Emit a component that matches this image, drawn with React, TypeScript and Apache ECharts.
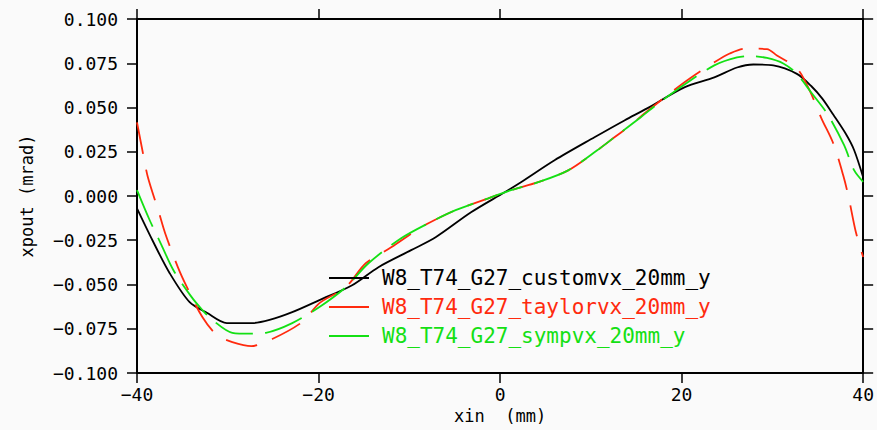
import React, { useEffect, useRef } from "react";
import * as echarts from "echarts";

const seriesNames = [
  "W8_T74_G27_customvx_20mm_y",
  "W8_T74_G27_taylorvx_20mm_y",
  "W8_T74_G27_sympvx_20mm_y",
];
const seriesColors = ["#000000", "#ff2a0e", "#14e014"];

const customX = [-40, -38.3, -36.4, -34.2, -32.3, -30.1, -27.3, -25.4, -22.9, -19.9, -16.3, -13.4, -9.8, -7.1, -3.2, 0.5, 2.3, 6.0, 10.4, 13.7, 16.2, 20.3, 23.6, 26.1, 27.9, 30.1, 32.7, 34.3, 35.5, 36.7, 38.1, 39.0, 40];
const customY = [-0.007, -0.025, -0.0436, -0.06, -0.066, -0.0718, -0.0718, -0.07, -0.0656, -0.0588, -0.0504, -0.0402, -0.0306, -0.0233, -0.0092, 0.0021, 0.0078, 0.0202, 0.0332, 0.0427, 0.0495, 0.0614, 0.067, 0.0726, 0.0743, 0.0738, 0.069, 0.062, 0.055, 0.046, 0.035, 0.026, 0.0106];

const taylorX = [-40, -39.3, -38.8, -37.6, -36.9, -35.5, -34.5, -32.8, -31.2, -29.5, -27.4, -25.1, -21.8, -19.9, -17, -14.8, -12, -9.2, -7.9, -4.9, -1.3, 1.2, 4.2, 7.5, 10.7, 12.6, 14.4, 15.9, 18.7, 20.9, 23.6, 25.3, 27, 29.4, 30.5, 32.7, 34.1, 35.4, 36.7, 37.8, 38.4, 39.2, 40];
const taylorY = [0.0416, 0.023, 0.0106, -0.0091, -0.021, -0.0402, -0.0515, -0.0684, -0.0786, -0.0825, -0.0848, -0.0808, -0.0712, -0.0605, -0.0515, -0.038, -0.029, -0.0193, -0.0154, -0.008, -0.0013, 0.0033, 0.0078, 0.0145, 0.0258, 0.0332, 0.04, 0.0466, 0.058, 0.0664, 0.0755, 0.0805, 0.0833, 0.083, 0.0794, 0.0721, 0.0597, 0.0439, 0.0298, 0.0117, -0.0007, -0.0205, -0.0345];

const sympX = [-40, -38.6, -37.3, -36, -34, -32.8, -31.7, -29.5, -27.5, -25.8, -22.9, -19.9, -17, -14.5, -10.9, -7.9, -4.9, -1.3, 1.2, 4.2, 7.5, 10.7, 12.6, 15.5, 17.6, 20.6, 23.6, 26.1, 27.8, 29.4, 31.2, 32.7, 34.3, 36.1, 37.9, 39, 40];
const sympY = [0.0033, -0.0137, -0.0277, -0.0418, -0.057, -0.0644, -0.07, -0.0773, -0.0778, -0.0773, -0.0718, -0.0627, -0.0515, -0.038, -0.0239, -0.0154, -0.008, -0.0013, 0.0033, 0.0078, 0.0145, 0.0258, 0.0332, 0.0445, 0.053, 0.064, 0.0738, 0.0783, 0.079, 0.078, 0.0749, 0.069, 0.0583, 0.046, 0.0287, 0.0146, 0.008];

const xRange = [-40, 40];
const xStep = 20;
const yRange = [-0.1, 0.1];
const yStep = 0.025;

const xAxisTitle = "xin  (mm)";
const yAxisTitle = "xpout (mrad)";

const FONT = "DejaVu Sans Mono";

const fmtX = (v: number) => (v < 0 ? "\u2212" + Math.abs(v) : String(v));
const fmtY = (v: number) => {
  const r = Math.round(v * 1000) / 1000;
  return (r < 0 ? "\u2212" : "") + Math.abs(r).toFixed(3);
};

export default function App() {
  const ref = useRef<HTMLDivElement>(null);
  useEffect(() => {
    document.body.style.margin = "0";
    const chart = echarts.init(ref.current!, null, { renderer: "svg" });
    const axisLine = { onZero: false, lineStyle: { color: "#000", width: 2 } };
    const axisTick = { inside: false, length: 10, lineStyle: { color: "#000", width: 1.5 } };
    const pairs = (xs: number[], ys: number[]) => xs.map((x, i) => [x, ys[i]]);
    const dash = [null, [32, 16], [40, 12]];
    const datasets = [pairs(customX, customY), pairs(taylorX, taylorY), pairs(sympX, sympY)];
    chart.setOption({
      animation: false,
      backgroundColor: "#fafafa",
      grid: { left: 137, right: 10, top: 19, bottom: 57 },
      legend: {
        orient: "vertical",
        left: 324,
        top: 262,
        icon: "rect",
        itemWidth: 40,
        itemHeight: 2,
        itemGap: 7,
        data: seriesNames.map((n, i) => ({ name: n, textStyle: { color: seriesColors[i] } })),
        textStyle: { fontFamily: FONT, fontSize: 21, lineHeight: 22, padding: [0, 0, 0, 8] },
      },
      xAxis: [
        {
          type: "value",
          min: xRange[0],
          max: xRange[1],
          interval: xStep,
          position: "bottom",
          axisLine,
          axisTick,
          splitLine: { show: false },
          axisLabel: { margin: 12, fontFamily: FONT, fontSize: 18, color: "#000", formatter: fmtX },
          name: xAxisTitle,
          nameLocation: "middle",
          nameGap: 28,
          nameTextStyle: { fontFamily: FONT, fontSize: 17, color: "#000" },
        },
        {
          type: "value",
          min: xRange[0],
          max: xRange[1],
          interval: xStep,
          position: "top",
          axisLine,
          axisTick,
          splitLine: { show: false },
          axisLabel: { show: false },
        },
      ],
      yAxis: [
        {
          type: "value",
          min: yRange[0],
          max: yRange[1],
          interval: yStep,
          position: "left",
          axisLine,
          axisTick,
          splitLine: { show: false },
          axisLabel: { margin: 19, fontFamily: FONT, fontSize: 18, color: "#000", formatter: fmtY },
          name: yAxisTitle,
          nameLocation: "middle",
          nameGap: 102,
          nameTextStyle: { fontFamily: FONT, fontSize: 17, color: "#000" },
        },
        {
          type: "value",
          min: yRange[0],
          max: yRange[1],
          interval: yStep,
          position: "right",
          axisLine,
          axisTick,
          splitLine: { show: false },
          axisLabel: { show: false },
        },
      ],
      series: seriesNames.map((n, i) => ({
        name: n,
        type: "line",
        xAxisIndex: 0,
        yAxisIndex: 0,
        data: datasets[i],
        symbol: "none",
        smooth: 0.3,
        color: seriesColors[i],
        lineStyle: { color: seriesColors[i], width: 1.8, type: dash[i] ?? "solid" },
      })),
    });
    return () => chart.dispose();
  }, []);
  return <div ref={ref} style={{ width: 877, height: 430 }} />;
}
